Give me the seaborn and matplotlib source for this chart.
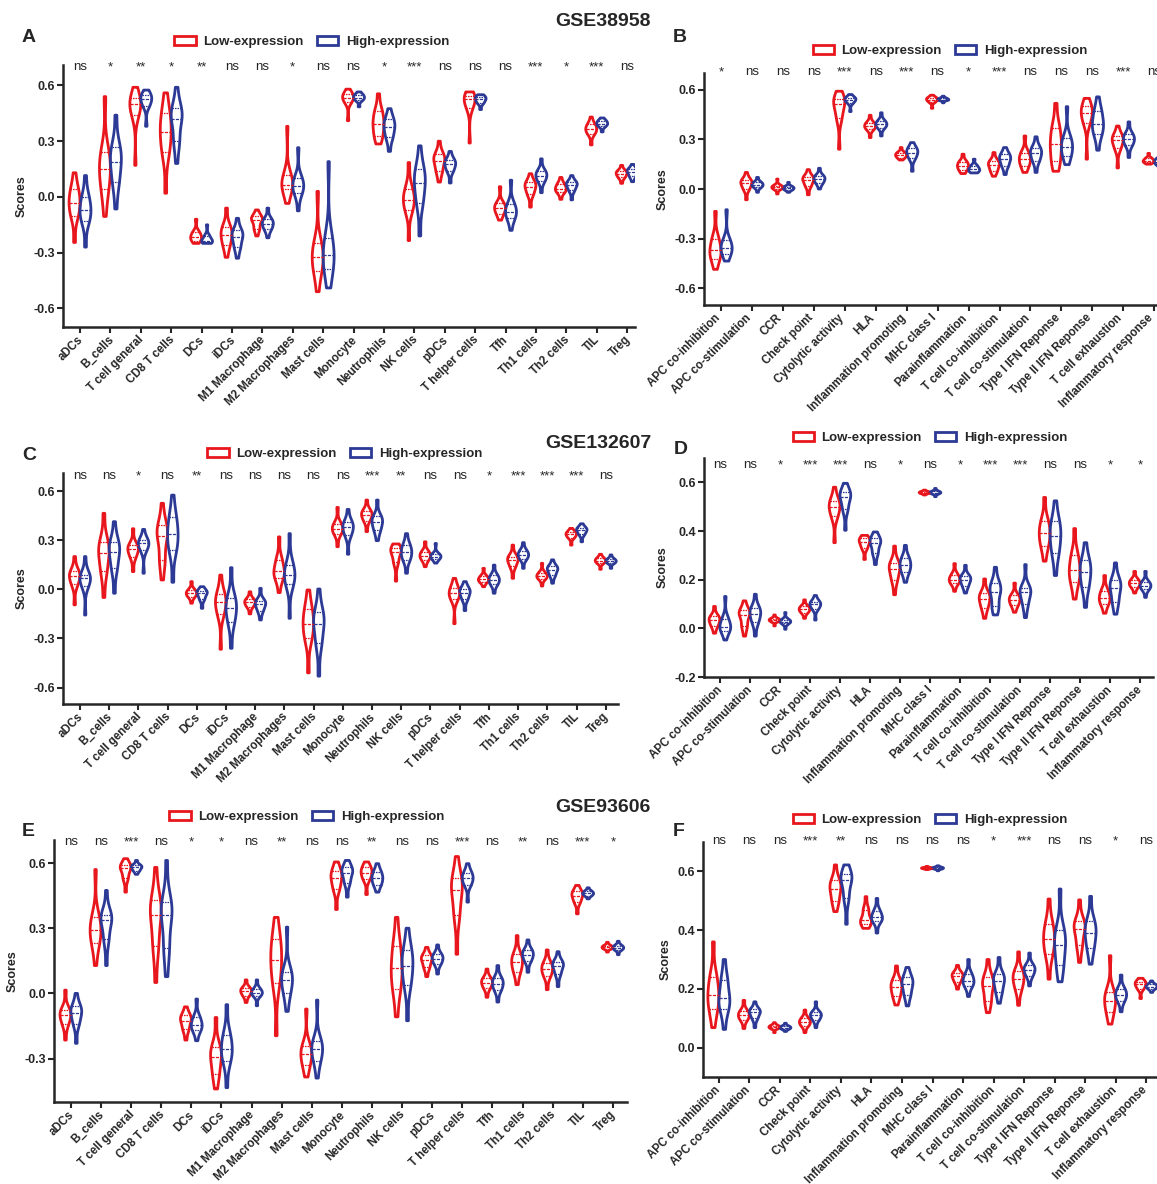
import numpy as np
import pandas as pd
import matplotlib
matplotlib.use("Agg")
import matplotlib.pyplot as plt
import seaborn as sns
from matplotlib.patches import Patch
from matplotlib.transforms import blended_transform_factory, ScaledTranslation

# categories on the x axes
cells = ["aDCs", "B_cells", "T cell general", "CD8 T cells", "DCs", "iDCs",
         "M1 Macrophage", "M2 Macrophages", "Mast cells", "Monocyte",
         "Neutrophils", "NK cells", "pDCs", "T helper cells", "Tfh",
         "Th1 cells", "Th2 cells", "TIL", "Treg"]
functions = ["APC co-inhibition", "APC co-stimulation", "CCR", "Check point",
             "Cytolytic activity", "HLA", "Inflammation promoting",
             "MHC class I", "Parainflammation", "T cell co-inhibition",
             "T cell co-stimulation", "Type I IFN Reponse",
             "Type II IFN Reponse", "T cell exhaustion",
             "Inflammatory response"]

# significance marks
sig_a = ["ns", "*", "**", "*", "**", "ns", "ns", "*", "ns", "ns", "*", "***",
         "ns", "ns", "ns", "***", "*", "***", "ns"]
sig_b = ["*", "ns", "ns", "ns", "***", "ns", "***", "ns", "*", "***", "ns",
         "ns", "ns", "***", "ns"]
sig_c = ["ns", "ns", "*", "ns", "**", "ns", "ns", "ns", "ns", "ns", "***",
         "**", "ns", "ns", "*", "***", "***", "***", "ns"]
sig_d = ["ns", "ns", "*", "***", "***", "ns", "*", "ns", "*", "***", "***",
         "ns", "ns", "*", "*"]
sig_e = ["ns", "ns", "***", "ns", "*", "*", "ns", "**", "ns", "ns", "**",
         "ns", "ns", "***", "ns", "**", "ns", "***", "*"]
sig_f = ["ns", "ns", "ns", "***", "**", "ns", "ns", "ns", "ns", "*", "***",
         "ns", "ns", "*", "ns"]

# scores per violin: min, q1, median, q3, max
a_low = [(-0.245, -0.10, -0.03, 0.04, 0.13), (-0.105, 0.04, 0.15, 0.24, 0.54),
         (0.17, 0.44, 0.50, 0.53, 0.59), (0.02, 0.24, 0.35, 0.45, 0.56),
         (-0.25, -0.235, -0.215, -0.19, -0.12), (-0.325, -0.26, -0.205, -0.16, -0.06),
         (-0.21, -0.17, -0.125, -0.105, -0.07), (-0.035, 0.04, 0.065, 0.12, 0.38),
         (-0.51, -0.40, -0.325, -0.25, 0.03), (0.41, 0.51, 0.535, 0.555, 0.58),
         (0.285, 0.33, 0.395, 0.46, 0.555), (-0.235, -0.07, -0.015, 0.04, 0.185),
         (0.08, 0.14, 0.195, 0.23, 0.30), (0.29, 0.48, 0.525, 0.545, 0.565),
         (-0.125, -0.09, -0.06, -0.035, 0.055), (-0.055, 0.015, 0.055, 0.08, 0.125),
         (-0.013, 0.025, 0.045, 0.07, 0.105), (0.28, 0.34, 0.365, 0.39, 0.43),
         (0.073, 0.105, 0.125, 0.14, 0.17)]
a_high = [(-0.27, -0.13, -0.07, 0.0, 0.115), (-0.065, 0.08, 0.19, 0.27, 0.44),
          (0.38, 0.49, 0.525, 0.55, 0.575), (0.18, 0.30, 0.42, 0.48, 0.59),
          (-0.25, -0.245, -0.235, -0.21, -0.15), (-0.33, -0.27, -0.215, -0.18, -0.115),
          (-0.22, -0.175, -0.145, -0.12, -0.06), (-0.075, 0.02, 0.06, 0.10, 0.265),
          (-0.49, -0.39, -0.315, -0.22, 0.19), (0.485, 0.52, 0.535, 0.55, 0.565),
          (0.245, 0.32, 0.375, 0.42, 0.475), (-0.21, -0.03, 0.075, 0.15, 0.275),
          (0.075, 0.14, 0.175, 0.20, 0.245), (0.47, 0.505, 0.525, 0.54, 0.55),
          (-0.18, -0.115, -0.08, -0.04, 0.09), (0.023, 0.085, 0.115, 0.14, 0.205),
          (-0.016, 0.035, 0.065, 0.08, 0.115), (0.35, 0.38, 0.395, 0.41, 0.425),
          (0.082, 0.11, 0.135, 0.15, 0.175)]

b_low = [(-0.485, -0.42, -0.37, -0.30, -0.135), (-0.065, 0.0, 0.035, 0.055, 0.10),
         (-0.03, 0.0, 0.01, 0.02, 0.06), (-0.035, 0.02, 0.055, 0.075, 0.117),
         (0.24, 0.43, 0.515, 0.545, 0.59), (0.31, 0.36, 0.38, 0.40, 0.445),
         (0.175, 0.19, 0.205, 0.22, 0.25), (0.487, 0.525, 0.54, 0.55, 0.566),
         (0.093, 0.115, 0.14, 0.165, 0.21), (0.077, 0.11, 0.145, 0.17, 0.22),
         (0.10, 0.14, 0.18, 0.22, 0.32), (0.107, 0.17, 0.27, 0.37, 0.517),
         (0.18, 0.40, 0.46, 0.50, 0.547), (0.127, 0.245, 0.295, 0.32, 0.38),
         (0.15, 0.16, 0.17, 0.185, 0.215)]
b_high = [(-0.435, -0.39, -0.355, -0.31, -0.125), (-0.02, 0.01, 0.025, 0.04, 0.07),
          (-0.02, -0.005, 0.005, 0.015, 0.04), (0.0, 0.035, 0.06, 0.08, 0.125),
          (0.467, 0.52, 0.54, 0.55, 0.57), (0.32, 0.37, 0.39, 0.41, 0.46),
          (0.107, 0.185, 0.22, 0.245, 0.28), (0.52, 0.535, 0.54, 0.548, 0.56),
          (0.097, 0.105, 0.12, 0.14, 0.18), (0.087, 0.14, 0.18, 0.21, 0.25),
          (0.10, 0.17, 0.215, 0.25, 0.315), (0.147, 0.20, 0.255, 0.31, 0.497),
          (0.234, 0.33, 0.395, 0.47, 0.556), (0.19, 0.265, 0.30, 0.33, 0.405),
          (0.137, 0.15, 0.165, 0.18, 0.20)]

c_low = [(-0.095, 0.03, 0.08, 0.11, 0.20), (-0.05, 0.11, 0.22, 0.29, 0.464),
         (0.108, 0.20, 0.245, 0.27, 0.37), (0.057, 0.18, 0.325, 0.39, 0.525),
         (-0.085, -0.045, -0.025, -0.005, 0.047), (-0.366, -0.15, -0.08, -0.03, 0.087),
         (-0.15, -0.105, -0.08, -0.06, -0.015), (-0.02, 0.07, 0.11, 0.18, 0.32),
         (-0.51, -0.30, -0.21, -0.12, -0.004), (0.26, 0.34, 0.37, 0.40, 0.50),
         (0.352, 0.42, 0.455, 0.48, 0.545), (0.05, 0.165, 0.23, 0.25, 0.277),
         (0.138, 0.18, 0.205, 0.23, 0.29), (-0.21, -0.06, -0.025, 0.01, 0.067),
         (0.016, 0.045, 0.06, 0.08, 0.128), (0.067, 0.14, 0.18, 0.20, 0.27),
         (0.02, 0.065, 0.08, 0.10, 0.159), (0.27, 0.315, 0.335, 0.35, 0.372),
         (0.122, 0.16, 0.175, 0.19, 0.214)]
c_high = [(-0.157, 0.02, 0.067, 0.09, 0.20), (-0.024, 0.13, 0.23, 0.29, 0.413),
          (0.098, 0.24, 0.28, 0.30, 0.366), (0.043, 0.24, 0.335, 0.44, 0.575),
          (-0.116, -0.06, -0.025, -0.01, 0.016), (-0.36, -0.20, -0.115, -0.05, 0.132),
          (-0.187, -0.13, -0.09, -0.07, 0.006), (-0.177, 0.03, 0.087, 0.15, 0.34),
          (-0.53, -0.33, -0.21, -0.14, 0.002), (0.214, 0.33, 0.378, 0.41, 0.488),
          (0.297, 0.36, 0.41, 0.445, 0.545), (0.098, 0.18, 0.225, 0.27, 0.34),
          (0.16, 0.185, 0.20, 0.215, 0.28), (-0.13, -0.06, -0.02, 0.005, 0.047),
          (-0.024, 0.03, 0.057, 0.085, 0.148), (0.128, 0.185, 0.21, 0.235, 0.285),
          (0.037, 0.085, 0.12, 0.14, 0.18), (0.29, 0.335, 0.36, 0.375, 0.40),
          (0.128, 0.16, 0.172, 0.185, 0.21)]

d_low = [(-0.02, 0.01, 0.033, 0.05, 0.09), (-0.032, 0.01, 0.055, 0.075, 0.113),
         (0.01, 0.028, 0.034, 0.04, 0.055), (0.041, 0.065, 0.078, 0.09, 0.117),
         (0.352, 0.46, 0.50, 0.525, 0.58), (0.283, 0.33, 0.355, 0.37, 0.382),
         (0.138, 0.20, 0.245, 0.27, 0.338), (0.548, 0.554, 0.558, 0.562, 0.568),
         (0.152, 0.185, 0.20, 0.22, 0.266), (0.041, 0.085, 0.12, 0.145, 0.203),
         (0.066, 0.095, 0.117, 0.135, 0.186), (0.276, 0.34, 0.39, 0.44, 0.538),
         (0.12, 0.19, 0.24, 0.30, 0.41), (0.062, 0.10, 0.125, 0.155, 0.217),
         (0.145, 0.17, 0.185, 0.20, 0.234)]
d_high = [(-0.048, -0.01, 0.007, 0.04, 0.131), (-0.032, 0.025, 0.06, 0.085, 0.14),
          (-0.004, 0.02, 0.028, 0.035, 0.065), (0.034, 0.08, 0.098, 0.11, 0.135),
          (0.403, 0.49, 0.54, 0.56, 0.596), (0.262, 0.31, 0.35, 0.37, 0.396),
          (0.189, 0.23, 0.26, 0.29, 0.341), (0.541, 0.553, 0.558, 0.563, 0.575),
          (0.145, 0.175, 0.20, 0.215, 0.259), (0.055, 0.09, 0.15, 0.185, 0.251),
          (0.044, 0.10, 0.148, 0.165, 0.262), (0.217, 0.31, 0.38, 0.44, 0.524),
          (0.086, 0.17, 0.23, 0.28, 0.352), (0.058, 0.11, 0.165, 0.20, 0.269),
          (0.127, 0.16, 0.175, 0.19, 0.234)]

e_low = [(-0.215, -0.14, -0.10, -0.075, 0.015), (0.128, 0.23, 0.29, 0.35, 0.57),
         (0.466, 0.53, 0.575, 0.59, 0.62), (0.05, 0.22, 0.36, 0.43, 0.58),
         (-0.215, -0.165, -0.125, -0.10, -0.062), (-0.44, -0.37, -0.295, -0.245, -0.111),
         (-0.042, -0.01, 0.01, 0.025, 0.062), (-0.195, 0.05, 0.155, 0.25, 0.35),
         (-0.385, -0.33, -0.28, -0.24, -0.072), (0.386, 0.48, 0.53, 0.565, 0.605),
         (0.455, 0.525, 0.555, 0.58, 0.605), (-0.108, 0.02, 0.115, 0.22, 0.35),
         (0.077, 0.12, 0.155, 0.175, 0.212), (0.18, 0.36, 0.475, 0.53, 0.63),
         (-0.018, 0.025, 0.05, 0.07, 0.112), (0.04, 0.10, 0.143, 0.18, 0.266),
         (0.017, 0.08, 0.112, 0.14, 0.20), (0.366, 0.42, 0.45, 0.47, 0.497),
         (0.19, 0.205, 0.212, 0.22, 0.235)]
e_high = [(-0.23, -0.14, -0.09, -0.06, 0.0), (0.128, 0.25, 0.34, 0.36, 0.474),
          (0.548, 0.565, 0.58, 0.59, 0.612), (0.077, 0.21, 0.36, 0.42, 0.612),
          (-0.218, -0.17, -0.145, -0.11, -0.026), (-0.434, -0.31, -0.255, -0.19, -0.052),
          (-0.057, -0.01, 0.003, 0.02, 0.062), (-0.083, 0.0, 0.063, 0.10, 0.305),
          (-0.39, -0.31, -0.257, -0.22, -0.031), (0.443, 0.51, 0.555, 0.58, 0.612),
          (0.466, 0.50, 0.53, 0.56, 0.597), (-0.126, 0.04, 0.128, 0.20, 0.30),
          (0.089, 0.135, 0.16, 0.18, 0.223), (0.42, 0.50, 0.53, 0.555, 0.597),
          (-0.04, 0.015, 0.045, 0.07, 0.128), (0.097, 0.15, 0.178, 0.20, 0.246),
          (0.031, 0.09, 0.128, 0.145, 0.192), (0.435, 0.45, 0.46, 0.47, 0.486),
          (0.178, 0.20, 0.21, 0.22, 0.24)]

f_low = [(0.068, 0.13, 0.18, 0.24, 0.36), (0.065, 0.095, 0.11, 0.125, 0.161),
         (0.051, 0.065, 0.07, 0.075, 0.085), (0.051, 0.075, 0.087, 0.10, 0.128),
         (0.463, 0.50, 0.54, 0.57, 0.622), (0.406, 0.42, 0.435, 0.47, 0.514),
         (0.145, 0.175, 0.205, 0.23, 0.278), (0.606, 0.609, 0.611, 0.613, 0.617),
         (0.199, 0.225, 0.243, 0.255, 0.28), (0.119, 0.16, 0.21, 0.24, 0.30),
         (0.144, 0.20, 0.235, 0.26, 0.326), (0.233, 0.32, 0.37, 0.42, 0.506),
         (0.29, 0.35, 0.405, 0.43, 0.503), (0.08, 0.12, 0.16, 0.19, 0.313),
         (0.167, 0.20, 0.215, 0.225, 0.236)]
f_high = [(0.062, 0.13, 0.17, 0.23, 0.30), (0.068, 0.10, 0.12, 0.13, 0.156),
          (0.055, 0.063, 0.068, 0.073, 0.083), (0.068, 0.095, 0.11, 0.12, 0.156),
          (0.42, 0.51, 0.57, 0.59, 0.622), (0.39, 0.43, 0.443, 0.465, 0.508),
          (0.142, 0.18, 0.215, 0.24, 0.273), (0.602, 0.608, 0.611, 0.614, 0.619),
          (0.174, 0.21, 0.227, 0.25, 0.30), (0.151, 0.19, 0.227, 0.25, 0.307),
          (0.21, 0.245, 0.265, 0.28, 0.322), (0.224, 0.28, 0.35, 0.40, 0.54),
          (0.284, 0.34, 0.39, 0.43, 0.515), (0.122, 0.16, 0.18, 0.20, 0.247),
          (0.188, 0.20, 0.208, 0.215, 0.227)]

# how many samples each of min, q1, median, q3, max stands for
rank_counts = [1, 3, 4, 3, 1]

RED = "#E8161D"
BLUE = "#2C3A96"
W, H = 1157, 1184

sns.set_style("ticks")
plt.rcParams["font.family"] = ["Liberation Sans", "DejaVu Sans"]
plt.rcParams["axes.unicode_minus"] = False


def make_frame(cats, low, high):
    rows = []
    for cat, lo, hi in zip(cats, low, high):
        for group, vals in (("Low-expression", lo), ("High-expression", hi)):
            for v, n in zip(vals, rank_counts):
                rows += [(cat, group, v)] * n
    return pd.DataFrame(rows, columns=["cell", "group", "score"])


fig = plt.figure(figsize=(W / 100, H / 100), dpi=100)

# letter, axes box in px (left, top, right, bottom), categories, data, marks,
# ylim, yticks, xlim, sig y px, legend centre px, letter px, label shift px
panels = [
    ("A", (63, 65, 635, 327), cells, a_low, a_high, sig_a, (-0.70, 0.71),
     [-0.6, -0.3, 0.0, 0.3, 0.6], (-0.56, 18.26), 67, (312, 42), (22, 38), 3),
    ("B", (704, 73, 1162, 305), functions, b_low, b_high, sig_b, (-0.70, 0.70),
     [-0.6, -0.3, 0.0, 0.3, 0.6], (-0.55, 14.25), 72, (950, 51), (673, 38), 7),
    ("C", (63, 473, 618, 704), cells, c_low, c_high, sig_c, (-0.70, 0.71),
     [-0.6, -0.3, 0.0, 0.3, 0.6], (-0.58, 18.42), 476, (345, 454), (22, 455), 3),
    ("D", (704, 458, 1153, 677), functions, d_low, d_high, sig_d, (-0.2, 0.70),
     [-0.2, 0.0, 0.2, 0.4, 0.6], (-0.53, 14.43), 465, (930, 438), (674, 450), 4),
    ("E", (54, 840, 627, 1102), cells, e_low, e_high, sig_e, (-0.50, 0.706),
     [-0.3, 0.0, 0.3, 0.6], (-0.56, 18.47), 842, (307, 817), (22, 832), 3),
    ("F", (703, 842, 1162, 1077), functions, f_low, f_high, sig_f, (-0.1, 0.70),
     [0.0, 0.2, 0.4, 0.6], (-0.52, 14.52), 841, (930, 820), (673, 831), 5),
]

for (letter, box, cats, low, high, sig, ylim, yticks, xlim, sig_y,
     leg_c, let_xy, lab_shift) in panels:
    l, t, r, b = box
    ax = fig.add_axes([l / W, 1 - b / H, (r - l) / W, (b - t) / H])
    df = make_frame(cats, low, high)
    sns.violinplot(data=df, x="cell", y="score", hue="group",
                   order=cats, hue_order=["Low-expression", "High-expression"],
                   palette=[RED, BLUE], fill=False, linewidth=2.0,
                   width=0.72, cut=0, bw_adjust=0.85, density_norm="width",
                   inner="quart", inner_kws=dict(linewidth=0.9),
                   legend=False, ax=ax)
    ax.set_xlim(*xlim)
    ax.set_ylim(*ylim)
    ax.set_yticks(yticks)
    ax.set_yticklabels([f"{v:.1f}" for v in yticks], fontsize=9,
                       fontweight="bold")
    ax.set_xticks(range(len(cats)))
    ax.set_xticklabels(cats, rotation=45, ha="right", va="top",
                       rotation_mode="anchor", fontsize=8.3,
                       fontweight="bold")
    ax.set_xlabel("")
    ax.set_ylabel("Scores", fontsize=9, fontweight="bold", labelpad=4)
    sns.despine(ax=ax)
    for s in ["left", "bottom"]:
        ax.spines[s].set_linewidth(1.8)
    ax.tick_params(width=1.5, length=4, pad=2)
    ax.tick_params(axis="x", pad=1)
    # nudge the rotated labels left so their ends sit under the ticks
    shift = ScaledTranslation(-lab_shift / 100, 0, fig.dpi_scale_trans)
    for lab in ax.get_xticklabels():
        lab.set_transform(lab.get_transform() + shift)

    # significance marks along the top
    trans = blended_transform_factory(ax.transData, fig.transFigure)
    for i, s in enumerate(sig):
        ax.text(i, 1 - sig_y / H, s, transform=trans, ha="center",
                va="center", fontsize=9.5, clip_on=False)

    handles = [Patch(facecolor="white", edgecolor=RED, linewidth=2,
                     label="Low-expression"),
               Patch(facecolor="white", edgecolor=BLUE, linewidth=2,
                     label="High-expression")]
    fig.legend(handles=handles, loc="center", ncol=2, frameon=False,
               bbox_to_anchor=(leg_c[0] / W, 1 - leg_c[1] / H),
               prop=dict(size=9.5, weight="bold"), handlelength=1.6,
               handleheight=0.6, columnspacing=1.0, handletextpad=0.6)

    fig.text(let_xy[0] / W, 1 - let_xy[1] / H, letter, fontsize=14,
             fontweight="bold", ha="left", va="center")

# dataset titles
fig.text(603 / W, 1 - 22 / H, "GSE38958", fontsize=14, fontweight="bold",
         ha="center", va="center")
fig.text(598 / W, 1 - 443 / H, "GSE132607", fontsize=14, fontweight="bold",
         ha="center", va="center")
fig.text(603 / W, 1 - 808 / H, "GSE93606", fontsize=14, fontweight="bold",
         ha="center", va="center")

fig.savefig("out.png", dpi=100)
